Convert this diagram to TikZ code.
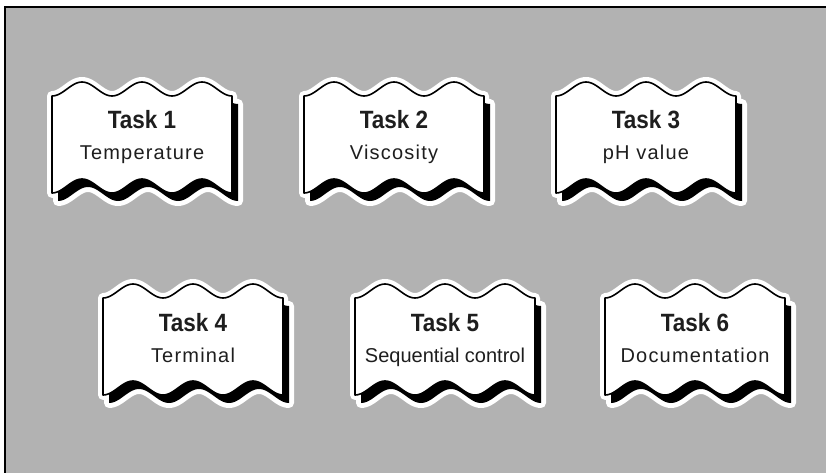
\documentclass[tikz,border=0pt]{standalone}
\usepackage{fontspec}
\setmainfont{Liberation Sans}
\newfontfamily\subA[LetterSpace=6]{Liberation Sans}
\newfontfamily\subB{Liberation Sans}
\definecolor{bggray}{HTML}{B2B2B2}
\definecolor{txtgray}{HTML}{1E1E1E}
\tikzset{
  halo/.style={draw=white, line width=10pt, line join=round, fill=white},
  shadowfill/.style={fill=black},
  taskbody/.style={fill=white, draw=black, line width=1.6pt, line join=round},
  titletext/.style={anchor=base, font=\fontsize{25}{25}\selectfont\bfseries, text=txtgray, inner sep=0pt},
  subtext/.style={anchor=base, text=txtgray, inner sep=0pt}
}
\begin{document}
\begin{tikzpicture}[x=1pt,y=-1pt]
\useasboundingbox (0,0) rectangle (826,473);
\fill[bggray] (5,7) rectangle (826,473);
\draw[line width=2pt] (5,473) -- (5,7) -- (826,7);
\foreach \px/\py/\n/\ttl/\sub/\sf in {
  52/89/1/Task 1/Temperature/\subA,
  304/89/2/Task 2/Viscosity/\subA,
  556/89/3/Task 3/pH value/\subA,
  103/291/4/Task 4/Terminal/\subA,
  355/291/5/Task 5/Sequential control/\subB,
  605/291/6/Task 6/Documentation/\subA}{
  \begin{scope}[shift={(\px,\py)}]
    % white halo around shadow and body
    \path[halo, shift={(6,8)}] plot[domain=0:180,samples=91,smooth] (\x,{7*cos(6*\x)}) -- plot[domain=180:0,samples=91,smooth] (\x,{97+7*cos(6*\x)}) -- cycle;
    \path[halo] plot[domain=0:180,samples=91,smooth] (\x,{7*cos(6*\x)}) -- plot[domain=180:0,samples=91,smooth] (\x,{97+7*cos(6*\x)}) -- cycle;
    % shadow
    \path[shadowfill, shift={(6,8)}] plot[domain=0:180,samples=91,smooth] (\x,{7*cos(6*\x)}) -- plot[domain=180:0,samples=91,smooth] (\x,{97+7*cos(6*\x)}) -- cycle;
    % body
    \path[taskbody] plot[domain=0:180,samples=91,smooth] (\x,{7*cos(6*\x)}) -- plot[domain=180:0,samples=91,smooth] (\x,{97+7*cos(6*\x)}) -- cycle;
    \node[titletext] (title\n) at (90,40) {\scalebox{0.9}[1]{\ttl}};
    \node[subtext, font=\fontsize{20}{20}\sf] (sub\n) at (90,71) {\sub};
  \end{scope}
}
\end{tikzpicture}
\end{document}
